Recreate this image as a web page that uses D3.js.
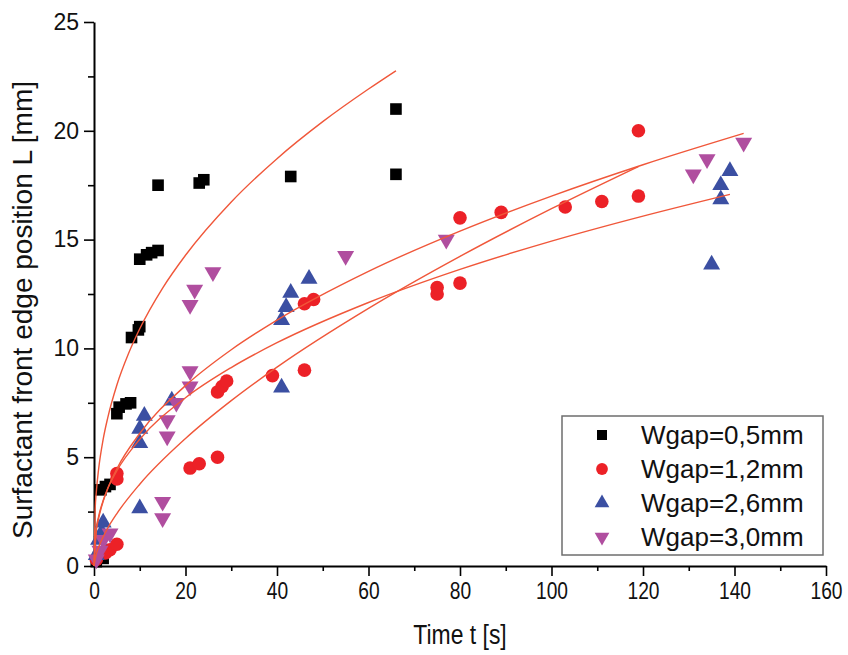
<!DOCTYPE html>
<html>
<head>
<meta charset="utf-8">
<script src="https://cdn.jsdelivr.net/npm/d3@7"></script>
<style>
  body { margin: 0; background: #fff; }
  text { font-family: "Liberation Sans", Arial, sans-serif; }
</style>
</head>
<body>
<svg width="848" height="655"></svg>
<script>
// measured points, t [s] / L [mm]
var blackT = [0.5, 1, 2, 1.5, 2.5, 3.5, 5, 5.5, 7, 8, 8.2, 9.7, 10, 10, 11.5, 12.6, 14, 14, 23, 24, 43, 66, 66];
var blackL = [0.2, 0.4, 0.35, 3.5, 3.65, 3.75, 7.0, 7.3, 7.45, 7.5, 10.5, 10.85, 11.0, 14.1, 14.3, 14.4, 14.5, 17.5, 17.6, 17.75, 17.9, 21.0, 18.0];

var redT = [0.5, 1.3, 2.5, 3.5, 5, 5, 5, 21, 23, 27, 27, 28, 29, 39, 46, 46, 48, 75, 75, 80, 80, 89, 103, 111, 119, 119];
var redL = [0.3, 0.55, 0.6, 0.75, 1.0, 4.0, 4.25, 4.5, 4.7, 5.0, 8.0, 8.25, 8.5, 8.75, 9.0, 12.05, 12.25, 12.5, 12.8, 13.0, 16.0, 16.25, 16.5, 16.75, 17.0, 20.0];

var blueT = [0.5, 1, 1.7, 2, 10, 10, 10, 11, 17, 41, 41, 42, 43, 47, 135, 137, 137, 139];
var blueL = [0.5, 1.2, 1.55, 2.0, 2.65, 5.65, 6.3, 6.9, 7.6, 8.2, 11.3, 11.9, 12.55, 13.2, 13.85, 16.85, 17.5, 18.15];

var pinkT = [0.5, 1.3, 2, 3.5, 15, 15, 16, 16, 18, 21, 21, 21, 22, 26, 55, 77, 131, 134, 142];
var pinkL = [0.3, 0.7, 1.2, 1.5, 2.2, 2.95, 5.95, 6.7, 7.5, 8.25, 8.95, 12.0, 12.7, 13.5, 14.25, 15.0, 18.0, 18.7, 19.45];

// fitted curves
var fitBlackT = [0, 0.25, 0.5, 1, 2, 3, 5, 7.5, 10, 15, 20, 30, 40, 50, 60, 66];
var fitBlackL = [0, 2.59, 3.39, 4.44, 5.82, 6.81, 8.32, 9.74, 10.9, 12.77, 14.28, 16.73, 18.72, 20.42, 21.92, 22.76];

var fitRedT = [0, 0.5, 1, 2, 3, 5, 10, 20, 30, 40, 60, 80, 100, 119];
var fitRedL = [0, 0.55, 0.86, 1.34, 1.74, 2.41, 3.76, 5.86, 7.6, 9.14, 11.84, 14.23, 16.42, 18.36];

var fitBlueT = [0, 0.5, 1, 2, 3, 5, 10, 20, 30, 40, 60, 80, 100, 120, 139];
var fitBlueL = [0, 1.71, 2.27, 3.01, 3.56, 4.38, 5.82, 7.73, 9.12, 10.26, 12.11, 13.63, 14.93, 16.08, 17.08];

var fitPinkT = [0, 0.5, 1, 2, 3, 5, 10, 20, 30, 40, 60, 80, 100, 120, 142];
var fitPinkL = [0, 1.6, 2.18, 2.97, 3.56, 4.47, 6.09, 8.29, 9.94, 11.3, 13.54, 15.39, 17.0, 18.44, 19.88];

var xTicks = [0, 20, 40, 60, 80, 100, 120, 140, 160];
var yTicks = [0, 5, 10, 15, 20, 25];
var legendLabels = ["Wgap=0,5mm", "Wgap=1,2mm", "Wgap=2,6mm", "Wgap=3,0mm"];

var svg = d3.select("svg");

var x = d3.scaleLinear().domain([0, 160]).range([94, 826]);
var y = d3.scaleLinear().domain([0, 25]).range([566, 22]);

function zip(a, b) { return a.map(function(v, i) { return [v, b[i]]; }); }

var series = [
  { pts: zip(blackT, blackL), fit: zip(fitBlackT, fitBlackL), color: "#000000", sym: d3.symbolSquare, size: 135, rot: 0 },
  { pts: zip(redT, redL), fit: zip(fitRedT, fitRedL), color: "#ec2127", sym: d3.symbolCircle, size: 145, rot: 0 },
  { pts: zip(blueT, blueL), fit: zip(fitBlueT, fitBlueL), color: "#3b4fa2", sym: d3.symbolTriangle, size: 125, rot: 0 },
  { pts: zip(pinkT, pinkL), fit: zip(fitPinkT, fitPinkL), color: "#b04e9f", sym: d3.symbolTriangle, size: 125, rot: 180 }
];

// axes
var xAxisMinor = d3.axisBottom(x).tickValues(d3.range(10, 160, 20)).tickSize(5).tickFormat("");
var yAxisMinor = d3.axisLeft(y).tickValues(d3.range(2.5, 25, 5)).tickSize(6).tickFormat("");

svg.append("g").attr("transform", "translate(0,566)").call(xAxisMinor)
  .call(function(g) { g.select(".domain").remove(); g.selectAll("line").attr("stroke-width", 1.6); });
svg.append("g").attr("transform", "translate(94,0)").call(yAxisMinor)
  .call(function(g) { g.select(".domain").remove(); g.selectAll("line").attr("stroke-width", 1.6); });

var gx = svg.append("g").attr("transform", "translate(0,566)")
  .call(d3.axisBottom(x).tickValues(xTicks).tickSize(10).tickSizeOuter(0).tickPadding(6));
gx.select(".domain").attr("stroke-width", 2);
gx.selectAll("line").attr("stroke-width", 1.6);
gx.selectAll("text").attr("font-size", 24).attr("fill", "#111")
  .attr("transform", "scale(0.8,1)");

var gy = svg.append("g").attr("transform", "translate(94,0)")
  .call(d3.axisLeft(y).tickValues(yTicks).tickSize(10).tickSizeOuter(0).tickPadding(5));
gy.select(".domain").attr("stroke-width", 2);
gy.selectAll("line").attr("stroke-width", 1.6);
gy.selectAll("text").attr("font-size", 23).attr("fill", "#111");

svg.append("text")
  .attr("transform", "translate(460,644) scale(0.85,1)")
  .attr("text-anchor", "middle")
  .attr("font-size", 27)
  .attr("fill", "#111")
  .text("Time t [s]");

svg.append("text")
  .attr("transform", "translate(32,310) rotate(-90)")
  .attr("text-anchor", "middle")
  .attr("font-size", 28)
  .attr("fill", "#111")
  .text("Surfactant front edge position L [mm]");

// points
series.forEach(function(s) {
  svg.append("g").selectAll("path")
    .data(s.pts)
    .enter().append("path")
      .attr("d", d3.symbol().type(s.sym).size(s.size))
      .attr("transform", function(d) { return "translate(" + x(d[0]) + "," + y(d[1]) + ") rotate(" + s.rot + ")"; })
      .attr("fill", s.color);
});

// fit curves
var line = d3.line()
  .x(function(d) { return x(d[0]); })
  .y(function(d) { return y(d[1]); })
  .curve(d3.curveMonotoneX);

series.forEach(function(s) {
  svg.append("path")
    .datum(s.fit)
    .attr("d", line)
    .attr("fill", "none")
    .attr("stroke", "#f0573a")
    .attr("stroke-width", 1.4);
});

// legend
var legend = svg.append("g");
legend.append("rect")
  .attr("x", 562).attr("y", 416).attr("width", 261).attr("height", 139)
  .attr("fill", "#fff").attr("stroke", "#6e6e6e").attr("stroke-width", 1.5);

var ly = d3.scalePoint().domain(legendLabels).range([435, 537]);

legend.selectAll("path")
  .data(series)
  .enter().append("path")
    .attr("d", function(s) { return d3.symbol().type(s.sym).size(s.size * 0.75)(); })
    .attr("transform", function(s, i) { return "translate(602," + ly(legendLabels[i]) + ") rotate(" + s.rot + ")"; })
    .attr("fill", function(s) { return s.color; });

legend.selectAll("text")
  .data(legendLabels)
  .enter().append("text")
    .attr("x", 641)
    .attr("y", function(d) { return ly(d) + 9; })
    .attr("font-size", 26)
    .attr("fill", "#111")
    .text(function(d) { return d; });
</script>
</body>
</html>
